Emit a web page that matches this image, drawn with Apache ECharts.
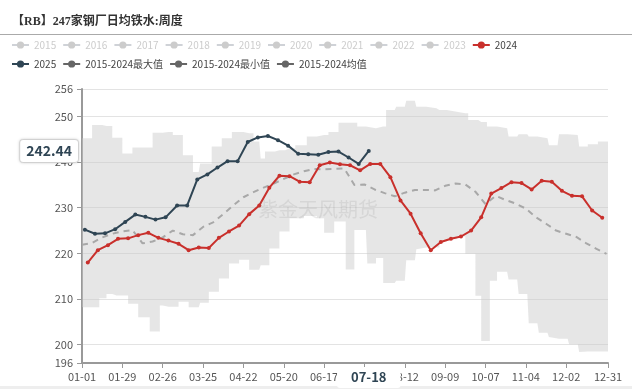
<!DOCTYPE html>
<html><head><meta charset="utf-8">
<script src="https://cdn.jsdelivr.net/npm/echarts@6/dist/echarts.min.js"></script>
<style>html,body{margin:0;padding:0;background:#fff}#c{width:632px;height:389px}</style>
</head><body><div id="c"></div>
<script>
// ---- data ----
const monthLengths = [31,29,31,30,31,30,31,31,30,31,30,31];
const hiddenYears = ['2015','2016','2017','2018','2019','2020','2021','2022','2023'];

const dates2024 = ['01-05','01-12','01-19','01-26','02-02','02-09','02-16','02-23','03-01','03-08','03-15','03-22','03-29',
  '04-05','04-12','04-19','04-26','05-03','05-10','05-17','05-24','05-31','06-07','06-14','06-21','06-28',
  '07-05','07-12','07-19','07-26','08-02','08-09','08-16','08-23','08-30','09-06','09-13','09-20','09-27',
  '10-04','10-11','10-18','10-25','11-01','11-08','11-15','11-22','11-29','12-06','12-13','12-20','12-27'];
const vals2024 = [218.0,220.7,221.8,223.2,223.3,224.0,224.5,223.4,222.8,222.1,220.7,221.3,221.2,
  223.4,224.8,226.1,228.6,230.5,234.4,237.0,236.9,235.7,235.6,239.3,239.9,239.5,
  239.3,238.2,239.6,239.6,236.7,231.6,228.7,224.4,220.7,222.5,223.2,223.7,225.0,
  227.9,233.1,234.3,235.6,235.4,234.0,235.9,235.7,233.7,232.6,232.5,229.4,227.8];

const dates2025 = ['01-03','01-10','01-17','01-24','01-31','02-07','02-14','02-21','02-28','03-07','03-14','03-21','03-28',
  '04-04','04-11','04-18','04-25','05-02','05-09','05-16','05-23','05-30','06-06','06-13','06-20','06-27',
  '07-04','07-11','07-18'];
const vals2025 = [225.2,224.3,224.4,225.3,226.9,228.5,228.0,227.4,227.9,230.5,230.5,236.2,237.3,
  238.8,240.2,240.2,244.4,245.4,245.7,244.8,243.6,241.8,241.7,241.6,242.2,242.3,
  241.0,239.6,242.44];

const avgDates = ['01-01','01-08','01-15','01-22','01-29','02-05','02-12','02-19','02-26','03-04','03-11','03-18','03-25',
  '04-01','04-08','04-15','04-22','04-29','05-06','05-13','05-20','05-27','06-03','06-10','06-17','06-24',
  '07-01','07-08','07-15','07-22','07-29','08-05','08-12','08-19','08-26','09-02','09-09','09-16','09-23',
  '09-30','10-07','10-14','10-21','10-28','11-04','11-11','11-18','11-25','12-02','12-09','12-16','12-23','12-30'];
const avgVals = [221.9,222.3,223.5,224.3,224.8,225.1,222.2,222.6,223.5,225.0,224.2,224.0,225.8,
  226.8,228.6,230.5,232.3,233.4,234.4,235.3,236.3,237.3,238.0,238.5,238.4,238.5,
  238.6,235.0,235.1,234.0,233.2,232.5,233.3,233.9,233.9,233.8,234.8,235.3,235.1,
  233.5,230.8,232.6,231.7,230.9,229.8,227.9,226.5,225.0,224.3,223.6,222.2,221.0,219.9];

// max / min band: each value holds from its start date until the next one
const maxStarts = ['01-01','01-08','01-15','01-22','01-29','02-05','02-19','02-26','03-04','03-11','03-18','03-23','03-31',
  '04-07','04-14','04-22','04-29','05-04','05-07','05-14','05-21','05-28','06-05','06-12','06-20','06-27',
  '07-10','07-17','07-23','07-30','08-06','08-13','08-20','08-27','09-03','09-10','09-17','09-25',
  '10-02','10-08','10-15','10-23','10-30','11-06','11-13','11-20','11-27','12-04','12-11','12-17','12-24'];
const maxVals = [245.2,248.1,247.9,245.3,241.9,243.2,246.4,246.6,245.9,241.5,237.8,239.7,243.4,
  245.2,246.6,246.3,244.5,240.8,242.3,242.6,243.0,243.7,245.6,245.9,246.6,248.6,
  247.8,247.4,247.8,251.4,252.1,253.4,252.1,251.8,251.4,251.0,250.7,249.2,
  248.8,247.8,247.4,245.6,246.1,245.6,245.2,243.7,246.1,245.9,243.4,243.9,244.5];
const minStarts = ['01-01','01-13','01-18','01-25','02-02','02-09','02-17','02-24','03-01','03-08','03-15','03-22','03-29',
  '04-05','04-12','04-19','04-26','05-03','05-10','05-17','05-24','06-03','06-12','06-17','06-24',
  '07-02','07-08','07-16','07-23','07-28','08-05','08-12','08-19','08-27','09-05','09-10','09-17','09-23','09-30',
  '10-04','10-10','10-15','10-22','10-29','11-05','11-12','11-19','11-26','12-03','12-10','12-17'];
const minVals = [208.2,210.2,211.1,210.8,209.0,206.0,202.9,208.6,208.3,209.4,208.2,209.2,211.6,
  214.5,217.8,218.6,216.4,217.4,221.1,224.8,227.7,228.2,227.7,224.5,227.0,
  216.5,225.1,217.8,219.0,213.5,214.0,218.5,220.9,221.3,222.6,223.1,223.7,219.9,210.7,
  200.8,214.0,216.0,214.3,211.1,204.7,202.6,201.7,201.3,200.1,198.4,198.5];

const pointerDate = '07-18';
const pointerValue = 242.44;

// ---- categories (every day of a leap year) ----
const categories = [];
monthLengths.forEach((n, m) => { for (let d = 1; d <= n; d++) categories.push(String(m+1).padStart(2,'0') + '-' + String(d).padStart(2,'0')); });
const lastIdx = categories.length - 1;
const showTick = (i) => (i % 28 === 0 && i <= lastIdx - 28) || i === lastIdx;

// ---- band table (union of step starts) ----
const idxOf = d => categories.indexOf(d);
const bp = new Set([...maxStarts.map(idxOf), ...minStarts.map(idxOf), lastIdx]);
const bps = [...bp].sort((a,b)=>a-b);
function heldValue(starts, vals, idx) { let v = vals[0]; starts.forEach((s,i)=>{ if (idxOf(s) <= idx) v = vals[i]; }); return v; }
const bandMin = bps.map(i => [categories[i], heldValue(minStarts, minVals, i)]);
const bandDiff = bps.map(i => [categories[i], +(heldValue(maxStarts, maxVals, i) - heldValue(minStarts, minVals, i)).toFixed(2)]);

const FONT = 'Noto Sans CJK SC';
const chart = echarts.init(document.getElementById('c'), null, {renderer: 'canvas'});

const series = [];
hiddenYears.forEach(y => series.push({name: y, type: 'line', data: [], symbol: 'circle'}));
series.push({name: '2015-2024最小值', type: 'line', stack: 'band', step: 'end', data: bandMin,
  symbol: 'none', itemStyle: {color: '#666'}, lineStyle: {opacity: 0}, z: 1, silent: true});
series.push({name: '2015-2024最大值', type: 'line', stack: 'band', step: 'end', data: bandDiff,
  symbol: 'none', itemStyle: {color: '#666'}, lineStyle: {opacity: 0},
  areaStyle: {color: 'rgba(200,200,200,0.45)', opacity: 1}, z: 1, silent: true});
series.push({name: '2015-2024均值', type: 'line', data: avgDates.map((d,i)=>[d, avgVals[i]]),
  symbol: 'circle', showSymbol: false, itemStyle: {color: '#666'},
  lineStyle: {color: '#a8a8a8', width: 2, type: [6,5]}, z: 3});
series.push({name: '2024', type: 'line', data: dates2024.map((d,i)=>[d, vals2024[i]]),
  symbol: 'circle', symbolSize: 4, showSymbol: true, showAllSymbol: true,
  itemStyle: {color: '#c9302c'}, lineStyle: {width: 2}, z: 4});
series.push({name: '2025', type: 'line', data: dates2025.map((d,i)=>[d, vals2025[i]]),
  symbol: 'circle', symbolSize: 4, showSymbol: true, showAllSymbol: true,
  itemStyle: {color: '#2f4554'}, lineStyle: {width: 2}, z: 5});

const selected = {}; hiddenYears.forEach(y => selected[y] = false);
const legendCommon = {
  orient: 'horizontal', itemWidth: 17, itemHeight: 9, itemGap: 6, inactiveColor: '#ccc',
  textStyle: {fontSize: 10, color: '#444', fontFamily: FONT}
};

chart.setOption({
  animation: false,
  textStyle: {fontFamily: FONT},
  title: {text: '【RB】247家钢厂日均铁水:周度', left: 7, top: 11,
    textStyle: {fontSize: 12, fontWeight: 'bold', color: '#333', fontFamily: 'Liberation Serif, Noto Sans CJK SC'}},
  graphic: [
    {type: 'line', shape: {x1: 0, y1: 34.5, x2: 632, y2: 34.5}, style: {stroke: '#aaa', lineWidth: 1}},
    {type: 'text', x: 318, y: 209, style: {text: '紫金天风期货', fontSize: 20, fontFamily: FONT,
      fill: 'rgba(120,120,120,0.15)', textAlign: 'center', textVerticalAlign: 'middle'}, z: 10},
    {type: 'rect', shape: {x: 0, y: 386, width: 632, height: 3}, style: {fill: '#eeeeee'}}
  ],
  legend: [
    Object.assign({}, legendCommon, {left: 6, top: 35, selected: selected,
      data: [...hiddenYears, '2024']}),
    Object.assign({}, legendCommon, {left: 6, top: 54,
      data: ['2025', '2015-2024最大值', '2015-2024最小值', '2015-2024均值'].map(n => ({name: n,
        lineStyle: {color: n === '2025' ? '#2f4554' : '#666', opacity: 1, width: 2}}))})
  ],
  grid: {left: 82, right: 24, top: 89, bottom: 26},
  axisPointer: {triggerOn: 'none'},
  xAxis: {
    type: 'category', data: categories, boundaryGap: false,
    axisLine: {lineStyle: {color: '#999', width: 2}},
    axisTick: {interval: showTick, length: 5, lineStyle: {color: '#999'}},
    axisLabel: {interval: showTick, color: '#555', fontSize: 11, margin: 8},
    splitLine: {show: false},
    axisPointer: {show: true, type: 'line', status: 'show', value: categories.indexOf(pointerDate), snap: false,
      lineStyle: {opacity: 0},
      label: {show: true, backgroundColor: '#fff', color: '#2f4554', fontWeight: 'bold', fontSize: 13,
        padding: [4, 14], margin: 4}}
  },
  yAxis: {
    type: 'value', min: 196, max: 256,
    axisLine: {show: true, lineStyle: {color: '#999', width: 2}},
    axisTick: {show: true, length: 5, lineStyle: {color: '#999'}},
    axisLabel: {color: '#555', fontSize: 11, margin: 9},
    splitLine: {lineStyle: {color: '#e3e3e3'}},
    axisPointer: {show: true, type: 'line', status: 'show', value: pointerValue, snap: false,
      lineStyle: {opacity: 0},
      label: {show: true, precision: 2, backgroundColor: '#fff', color: '#2f4554', fontWeight: 'bold', fontSize: 14,
        padding: [4, 6], borderColor: '#ddd', borderWidth: 1, shadowBlur: 3, shadowColor: 'rgba(0,0,0,0.15)', margin: 4}}
  },
  series: series
});
</script></body></html>
